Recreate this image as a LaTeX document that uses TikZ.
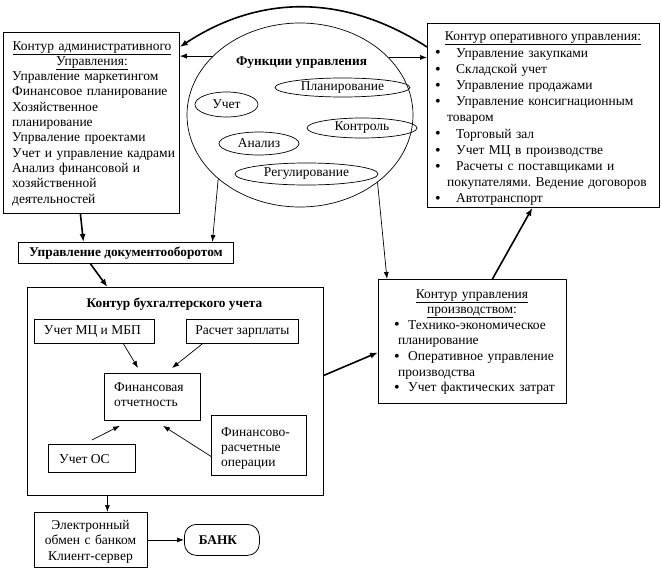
\documentclass[tikz,border=0pt]{standalone}
\usepackage{fontspec}
\setmainfont{Liberation Serif}
\usetikzlibrary{arrows.meta,shapes.geometric,calc}
\newcommand\bigbul{\smash{\raisebox{-0.9pt}{\fontsize{16}{16}\selectfont\textbullet}}}
\newcommand\bulo{\hspace*{-12pt}\makebox[21pt][l]{\bigbul}}
\newcommand\bulp{\hspace*{-4pt}\makebox[14pt][l]{\bigbul}}
\tikzset{
  box/.style={draw, line width=0.8pt, inner sep=0pt, anchor=north west},
  txt/.style={inner sep=0pt, font=\fontsize{13.5}{15.3}\selectfont},
  bt/.style={inner sep=0pt, font=\fontsize{13.3}{15.3}\selectfont\bfseries},
  ell/.style={draw, ellipse, line width=0.7pt, inner sep=0pt},
  thinar/.style={line width=0.7pt, -{Latex[length=7pt,width=5pt]}},
  thickar/.style={line width=1.6pt, -{Latex[length=8pt,width=6pt]}},
}
\begin{document}
\frenchspacing
\begin{tikzpicture}[x=1pt,y=-1pt]
\useasboundingbox (0,0) rectangle (662,584);
% ---- admin box
\node[box, minimum width=176pt, minimum height=181pt] (adm) at (3,32) {};
\node[txt, text width=174pt, align=center, anchor=base] (admT) at (92,50)
  {\underline{Контур административного}\\\underline{Управления:}};
\node[txt, text width=172pt, align=left, anchor=base west] (admB) at (12,80.6)
  {Управление маркетингом\\Финансовое планирование\\Хозяйственное\\планирование\\Упрваление проектами\\Учет и управление кадрами\\Анализ финансовой и\\хозяйственной\\деятельностей};
% ---- operational box
\node[box, minimum width=232pt, minimum height=184pt] (oper) at (427,23) {};
\node[txt, anchor=base] (operT) at (543,40) {\underline{Контур оперативного управления:}};
\node[txt, text width=210pt, align=left, anchor=base west, font=\fontsize{13.5}{16.2}\selectfont] (operB) at (447,57)
  {\bulo Управление закупками\\\bulo Складской учет\\\bulo Управление продажами\\\bulo Управление консигнационным\\товаром\\\bulo Торговый зал\\\bulo Учет МЦ в производстве\\\bulo Расчеты с поставщиками и\\покупателями. Ведение договоров\\\bulo Автотранспорт};
% ---- functions ellipse
\node[ell, minimum width=226pt, minimum height=184pt] (fun) at (300,115) {};
\node[bt] (funT) at (301.5,63) {Функции управления};
\node[ell, minimum width=63pt, minimum height=25pt] (e1) at (226.5,104.5) {};
\node[txt] at (e1.center) {Учет};
\node[ell, minimum width=135pt, minimum height=19pt] (e2) at (342.5,87.5) {};
\node[txt] at (e2.center) {Планирование};
\node[ell, minimum width=110pt, minimum height=20pt] (e3) at (362,128) {};
\node[txt] at (e3.center) {Контроль};
\node[ell, minimum width=80pt, minimum height=23pt] (e4) at (259,143.5) {};
\node[txt] at (e4.center) {Анализ};
\node[ell, minimum width=143pt, minimum height=22pt] (e5) at (306.5,174) {};
\node[txt] at (e5.center) {Регулирование};
% ---- document management
\node[box, minimum width=215pt, minimum height=21pt] (doc) at (18,242) {};
\node[bt] (docT) at (doc.center) {Управление документооборотом};
% ---- accounting
\node[box, minimum width=296pt, minimum height=208pt] (acc) at (27,287) {};
\node[bt, anchor=base] (accT) at (174.5,307) {Контур бухгалтерского учета};
\node[box, minimum width=120pt, minimum height=24pt] (mc) at (34,319) {};
\node[txt] at ([xshift=-2pt]mc.center) {Учет МЦ и МБП};
\node[box, minimum width=112pt, minimum height=24pt] (zp) at (186,319) {};
\node[txt] at (zp.center) {Расчет зарплаты};
\node[box, minimum width=96pt, minimum height=47pt] (fo) at (104,373) {};
\node[txt, text width=84pt, align=left, anchor=base west] (foT) at (114,391) {Финансовая\\отчетность};
\node[box, minimum width=87pt, minimum height=28pt] (os) at (48,444) {};
\node[txt, anchor=base west] (osT) at (59,463) {Учет ОС};
\node[box, minimum width=95pt, minimum height=60pt] (fr) at (211,415) {};
\node[txt, text width=84pt, align=left, anchor=base west, font=\fontsize{13.5}{15}\selectfont] (frT) at (221,436) {Финансово-\\расчетные\\операции};
% ---- production
\node[box, minimum width=188pt, minimum height=124pt] (prod) at (378,279) {};
\node[txt, text width=180pt, align=center, anchor=base] (prodT) at (472,298)
  {\underline{Контур управления}\\\underline{производством}:};
\node[txt, text width=165pt, align=left, anchor=base west, font=\fontsize{13.5}{15.7}\selectfont] (prodB) at (398,329)
  {\bulp Технико-экономическое\\планирование\\\bulp Оперативное управление\\производства\\\bulp Учет фактических затрат};
% ---- bank exchange
\node[box, minimum width=113pt, minimum height=55pt] (el) at (34,512) {};
\node[txt, text width=110pt, align=center, anchor=base, font=\fontsize{13.5}{15.5}\selectfont] (elT) at (90.5,529) {Электронный\\обмен с банком\\Клиент-сервер};
\node[draw, rounded corners=12pt, line width=0.8pt, inner sep=0pt, anchor=north west, minimum width=75pt, minimum height=31pt] (bank) at (184,524) {};
\node[bt] (bankT) at ([xshift=-4pt]bank.center) {БАНК};
% ---- connectors
\draw[line width=1.6pt, -{Latex[length=8pt,width=6pt]}] ([yshift=-24pt]oper.north west) .. controls (345,-6) and (260,-6) .. ([yshift=-15pt]adm.north east);
\draw[thinar] (fun.146.6) -- (fun.146.6 -| adm.east);
\draw[thinar] (fun.33.4) -- (fun.33.4 -| oper.west);
\draw[thickar] ([xshift=-11pt]adm.south) -- ([xshift=-42.5pt]doc.north);
\draw[thinar] (fun.218.3) -- ([xshift=86.5pt]doc.north);
\draw[thinar] (fun.319.3) -- ([xshift=9pt]prod.north west);
\draw[thickar] ([xshift=-35.5pt]doc.south) -- ([xshift=-68pt]acc.north);
\draw[thinar] ([xshift=29pt]mc.south) -- ([xshift=34pt,yshift=5pt]fo.north west);
\draw[thinar] ([xshift=-40pt]zp.south) -- ([xshift=68pt,yshift=5pt]fo.north west);
\draw[thinar] ([yshift=4pt]os.north) -- ([xshift=16pt,yshift=-5pt]fo.south west);
\draw[thinar] ([yshift=-11pt]fr.west) -- ([xshift=59pt,yshift=-5pt]fo.south west);
\draw[thickar] ([yshift=16pt]acc.east) -- ([yshift=-11pt]prod.west);
\draw[thickar] ([xshift=20pt]prod.north) -- ([xshift=-11pt]oper.south);
\draw[thinar] ([xshift=-68pt]acc.south) -- ([xshift=16.5pt]el.north);
\draw[thinar] (el.east) -- (bank.west);
\end{tikzpicture}
\end{document}
